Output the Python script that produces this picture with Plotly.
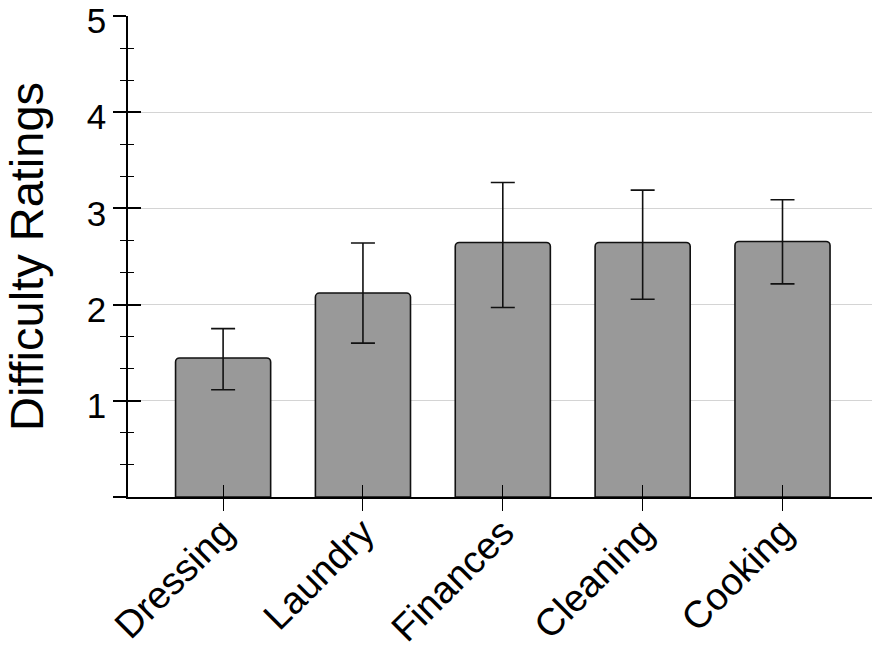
import plotly.graph_objects as go

# Data
tasks = ["Dressing", "Laundry", "Finances", "Cleaning", "Cooking"]
mean_rating = [1.445, 2.12, 2.646, 2.646, 2.656]
err_upper = [1.75, 2.64, 3.27, 3.19, 3.09]
err_lower = [1.115, 1.60, 1.97, 2.055, 2.215]

y_tickvals = [0, 1, 2, 3, 4, 5]
y_ticktext = ["", "1", "2", "3", "4", "5"]

plus = [u - m for u, m in zip(err_upper, mean_rating)]
minus = [m - l for m, l in zip(mean_rating, err_lower)]

FONT = "Liberation Sans, Arial, sans-serif"

fig = go.Figure()

fig.add_trace(go.Bar(
    x=tasks,
    y=mean_rating,
    width=0.68,
    marker=dict(color="#999999", line=dict(color="#111111", width=1.6), cornerradius=4),
    error_y=dict(type="data", array=plus, arrayminus=minus,
                 color="#111111", thickness=1.6, width=12),
    showlegend=False,
))

# invisible trace so the overlaid axes draw their (inside) ticks
fig.add_trace(go.Scatter(
    x=tasks, y=mean_rating, xaxis="x2", yaxis="y2",
    mode="markers", marker=dict(opacity=0), hoverinfo="skip", showlegend=False,
))

fig.update_layout(
    width=872, height=652,
    margin=dict(l=128, r=0, t=16, b=155),
    plot_bgcolor="white", paper_bgcolor="white",
    font=dict(family=FONT, color="black", size=36),
    xaxis=dict(
        range=[-0.68, 4.64], automargin=False,
        showline=True, linecolor="black", linewidth=1.6,
        ticks="outside", ticklen=12, tickwidth=1.4, tickcolor="black",
        tickangle=-45, tickfont=dict(size=38), ticklabelstandoff=-16,
        showgrid=False, zeroline=False,
    ),
    yaxis=dict(
        range=[0, 5], automargin=False,
        tickvals=y_tickvals, ticktext=y_ticktext,
        ticklabeloverflow="allow", ticklabelshift=5,
        showline=True, linecolor="black", linewidth=1.6,
        ticks="outside", ticklen=13, tickwidth=1.6, tickcolor="black",
        minor=dict(dtick=1 / 3, tick0=0, ticks="outside", ticklen=6,
                   tickwidth=1.4, tickcolor="black", showgrid=False),
        showgrid=True, gridcolor="#d4d4d4", gridwidth=1,
        zeroline=False,
        tickfont=dict(size=35),
        title=dict(text="Difficulty Ratings", font=dict(size=47), standoff=30),
    ),
    xaxis2=dict(
        overlaying="x", matches="x", anchor="y2", automargin=False,
        showline=False, showticklabels=False, showgrid=False, zeroline=False,
        ticks="inside", ticklen=12, tickwidth=1.4, tickcolor="black",
    ),
    yaxis2=dict(
        overlaying="y", matches="y", anchor="x2", side="left", automargin=False,
        tickvals=y_tickvals,
        showline=False, showticklabels=False, showgrid=False, zeroline=False,
        ticks="inside", ticklen=13, tickwidth=1.6, tickcolor="black",
        minor=dict(dtick=1 / 3, tick0=0, ticks="inside", ticklen=6,
                   tickwidth=1.4, tickcolor="black", showgrid=False),
    ),
)

# drop the default 8px body margin so the figure fills the window exactly
fig.write_html("out.html", config={"displayModeBar": False},
               post_script="document.body.style.margin = '0';")
